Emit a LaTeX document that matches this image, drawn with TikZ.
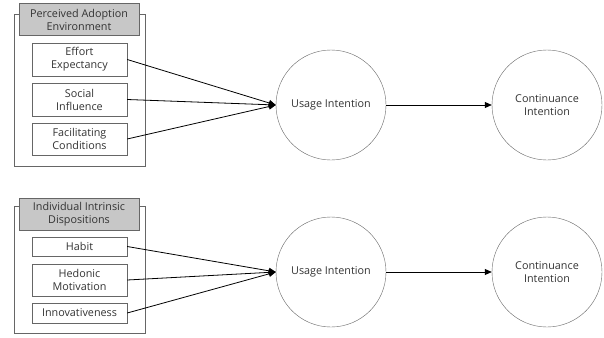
\documentclass[tikz,border=0pt]{standalone}
\usepackage{fontspec}
\setmainfont{Open Sans}
\usetikzlibrary{arrows.meta}
\tikzset{group/.style={draw=black!60,rectangle,inner sep=0pt},
	header/.style={draw=black!60,fill=black!22,rectangle,align=center,inner sep=0pt,minimum width=120pt,minimum height=32pt},
	construct/.style={draw=black!60,fill=white,rectangle,align=center,inner sep=0pt,minimum width=95pt},
	latent/.style={draw=black!60,circle,align=center,inner sep=0pt,minimum size=110pt},
	path/.style={draw,thick,-{Triangle[length=7pt,width=6pt]}}}

\begin{document}
\begin{tikzpicture}[x=1pt,y=-1pt,font=\fontsize{10.8}{13}\selectfont,text=black!80]
		\useasboundingbox (0,0) rectangle (604,337);
		% perceived adoption environment
		\node[group,minimum width=131pt,minimum height=152pt] (PAE) at (79.5,90) {};
		\node[header] (PAEh) at (79,19.5) {Perceived Adoption\\Environment};
		\node[construct,minimum height=33pt] (EE) at (79.5,59.5) {Effort\\Expectancy};
		\node[construct,minimum height=33pt] (SI) at (79.5,99.5) {Social\\Influence};
		\node[construct,minimum height=32pt] (FC) at (79.5,139) {Facilitating\\Conditions};
		\node[latent] (UIa) at (331,105) {Usage Intention};
		\node[latent] (CIa) at (547,105) {Continuance\\Intention};
		% individual intrinsic dispositions
		\node[group,minimum width=131pt,minimum height=127pt] (IID) at (79.5,269.5) {};
		\node[header] (IIDh) at (79,214) {Individual Intrinsic\\Dispositions};
		\node[construct,minimum height=19pt] (HA) at (79.5,246.5) {Habit};
		\node[construct,minimum height=32pt] (HM) at (79.5,280) {Hedonic\\Motivation};
		\node[construct,minimum height=20pt] (IN) at (79.5,313) {Innovativeness};
		\node[latent] (UIb) at (331,272) {Usage Intention};
		\node[latent] (CIb) at (547,272) {Continuance\\Intention};
		\begin{scope}[every path/.style={path}]
			\path (EE.east) -- (UIa.west);
			\path (SI.east) -- (UIa.west);
			\path (FC.east) -- (UIa.west);
			\path (UIa.east) -- (CIa.west);
			\path (HA.east) -- (UIb.west);
			\path (HM.east) -- (UIb.west);
			\path (IN.east) -- (UIb.west);
			\path (UIb.east) -- (CIb.west);
		\end{scope}
	\end{tikzpicture}
\end{document}
